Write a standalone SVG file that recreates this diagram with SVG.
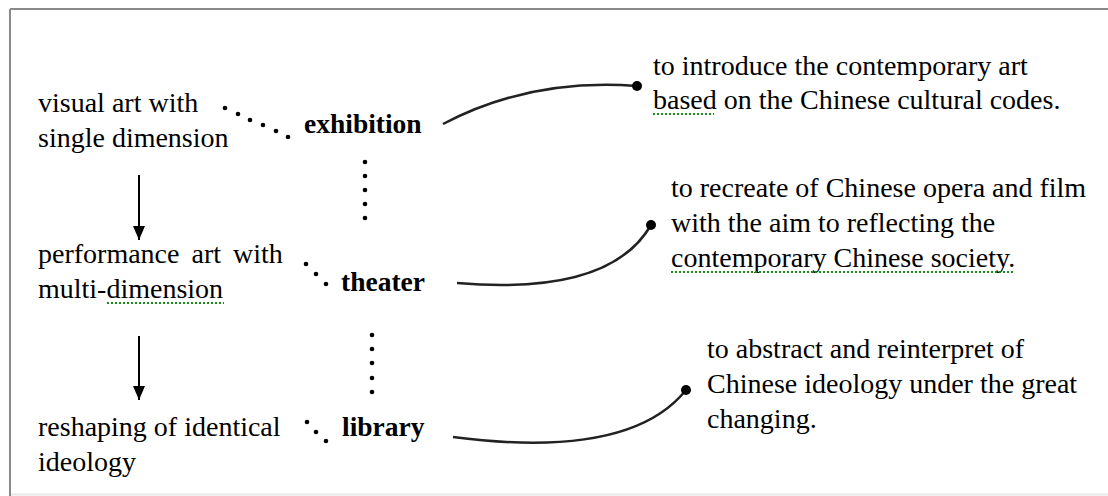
<svg xmlns="http://www.w3.org/2000/svg" width="1108" height="496" viewBox="0 0 1108 496">
<style>
.t{font-family:"Liberation Serif","Times New Roman",serif;font-size:28px;fill:#000}
.r{font-family:"Liberation Serif","Times New Roman",serif;font-size:28px;fill:#000}
.b{font-family:"Liberation Serif","Times New Roman",serif;font-size:27.5px;font-weight:bold;fill:#000}
.c{fill:none;stroke:#222;stroke-width:2.5}
.a{stroke:#000;stroke-width:2}
.sp{fill:none;stroke:#1a8a1a;stroke-width:2;stroke-dasharray:2 2}
.d{fill:#000}
</style>
<defs>
<marker id="ah" markerWidth="14" markerHeight="12" refX="14" refY="6" orient="auto" markerUnits="userSpaceOnUse" viewBox="0 0 14 12">
<path d="M0,0 L14,6 L0,12 Z" fill="#000"/>
</marker>
</defs>
<rect x="0" y="0" width="1108" height="496" fill="#fff"/>
<line x1="10" y1="9" x2="1108" y2="9" stroke="#8a8a8a" stroke-width="2"/>
<line x1="10" y1="9" x2="10" y2="496" stroke="#8a8a8a" stroke-width="2"/>
<line x1="11" y1="494.5" x2="1108" y2="494.5" stroke="#e8e8e8" stroke-width="2"/>

<g id="n-visual"><text class="t" x="38" y="112">visual art with</text><text class="t" x="38" y="147">single dimension</text></g>
<g id="n-performance"><text class="t" x="38" y="263" word-spacing="5">performance art with</text><text class="t" x="38" y="298">multi-dimension</text><line class="sp" x1="107" y1="303" x2="224" y2="303"/></g>
<g id="n-reshaping"><text class="t" x="38" y="436">reshaping of identical</text><text class="t" x="38" y="471">ideology</text></g>

<g id="n-exhibition"><text class="b" x="304" y="133">exhibition</text></g>
<g id="n-theater"><text class="b" x="341" y="291">theater</text></g>
<g id="n-library"><text class="b" x="342" y="436">library</text></g>

<g id="n-desc1"><text class="r" x="653" y="75">to introduce the contemporary art</text><text class="r" x="653" y="109">based on the Chinese cultural codes.</text><line class="sp" x1="653" y1="114" x2="714" y2="114"/></g>
<g id="n-desc2"><text class="r" x="671" y="197">to recreate of Chinese opera and film</text><text class="r" x="671" y="232">with the aim to reflecting the</text><text class="r" x="671" y="267">contemporary Chinese society.</text><line class="sp" x1="671" y1="272" x2="1013" y2="272"/></g>
<g id="n-desc3"><text class="r" x="707" y="358">to abstract and reinterpret of</text><text class="r" x="707" y="393">Chinese ideology under the great</text><text class="r" x="707" y="428">changing.</text></g>

<g id="connectors">
<line class="a" x1="139" y1="175" x2="139" y2="240" marker-end="url(#ah)"/>
<line class="a" x1="139" y1="336" x2="139" y2="400" marker-end="url(#ah)"/>
<g class="d">
<circle cx="225" cy="108" r="2.3"/><circle cx="238" cy="114" r="2.3"/><circle cx="250" cy="120" r="2.3"/><circle cx="263" cy="125" r="2.3"/><circle cx="276" cy="131" r="2.3"/><circle cx="288" cy="137" r="2.3"/>
<circle cx="306" cy="264" r="2.3"/><circle cx="316" cy="274" r="2.3"/><circle cx="326" cy="284" r="2.3"/>
<circle cx="307" cy="422" r="2.3"/><circle cx="316" cy="432" r="2.3"/><circle cx="326" cy="441" r="2.3"/>
<circle cx="365" cy="162" r="2.3"/><circle cx="365" cy="176" r="2.3"/><circle cx="365" cy="190" r="2.3"/><circle cx="365" cy="204" r="2.3"/><circle cx="365" cy="218" r="2.3"/>
<circle cx="372" cy="335" r="2.3"/><circle cx="372" cy="349" r="2.3"/><circle cx="372" cy="363" r="2.3"/><circle cx="372" cy="378" r="2.3"/><circle cx="372" cy="392" r="2.3"/>
</g>
<path class="c" d="M443,124 Q530,78 637,86"/>
<circle class="d" cx="637" cy="86" r="5"/>
<path class="c" d="M457,283 Q610,296 651,225"/>
<circle class="d" cx="651" cy="225" r="5"/>
<path class="c" d="M453,437 Q630,460 686,390"/>
<circle class="d" cx="686" cy="390" r="5"/>
</g>
</svg>
